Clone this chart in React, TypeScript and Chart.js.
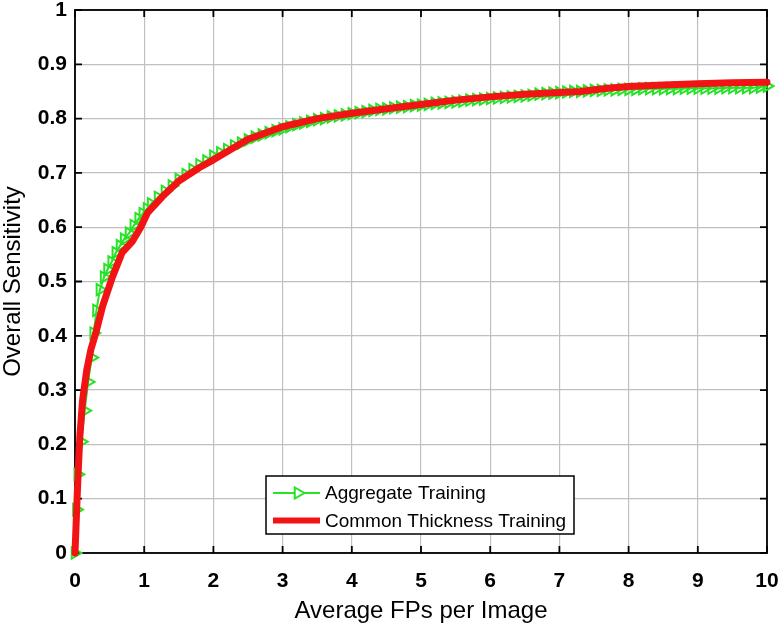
import React, { useEffect, useRef } from "react";
import { Chart, registerables } from "chart.js";

Chart.register(...registerables);

// ---- data ----
const seriesNames = ["Aggregate Training", "Common Thickness Training"];

const xTickValues = [0, 1, 2, 3, 4, 5, 6, 7, 8, 9, 10];
const xTickLabels = ["0", "1", "2", "3", "4", "5", "6", "7", "8", "9", "10"];
const yTickValues = [0, 0.1, 0.2, 0.3, 0.4, 0.5, 0.6, 0.7, 0.8, 0.9, 1];
const yTickLabels = ["0", "0.1", "0.2", "0.3", "0.4", "0.5", "0.6", "0.7", "0.8", "0.9", "1"];

// Aggregate Training (green, triangle markers)
const aggX = [
  0, 0.02, 0.04, 0.09, 0.14, 0.19, 0.24, 0.27, 0.31, 0.36, 0.42, 0.47, 0.53, 0.59, 0.65, 0.71, 0.78, 0.85, 0.92, 0.98,
  1.04, 1.1, 1.2, 1.3, 1.4, 1.5, 1.6, 1.7, 1.8, 1.9, 2.0, 2.1, 2.2, 2.3, 2.4, 2.5, 2.6, 2.7, 2.8, 2.9,
  3.0, 3.1, 3.2, 3.3, 3.4, 3.5, 3.6, 3.7, 3.8, 3.9, 4.0, 4.1, 4.2, 4.3, 4.4, 4.5, 4.6, 4.7, 4.8, 4.9,
  5.0, 5.1, 5.2, 5.3, 5.4, 5.5, 5.6, 5.7, 5.8, 5.9, 6.0, 6.1, 6.2, 6.3, 6.4, 6.5, 6.6, 6.7, 6.8, 6.9,
  7.0, 7.1, 7.2, 7.3, 7.4, 7.5, 7.6, 7.7, 7.8, 7.9, 8.0, 8.1, 8.2, 8.3, 8.4, 8.5, 8.6, 8.7, 8.8, 8.9,
  9.0, 9.1, 9.2, 9.3, 9.4, 9.5, 9.6, 9.7, 9.8, 9.9, 10.0,
];
const aggY = [
  0, 0.08, 0.145, 0.205, 0.262, 0.315, 0.36, 0.405, 0.447, 0.485, 0.508, 0.522, 0.536, 0.553, 0.566, 0.578, 0.589, 0.603, 0.616, 0.625,
  0.634, 0.643, 0.655, 0.666, 0.676, 0.688, 0.697, 0.706, 0.715, 0.722, 0.731, 0.737, 0.743, 0.75, 0.755, 0.761, 0.766, 0.77, 0.774, 0.778,
  0.781, 0.785, 0.789, 0.792, 0.795, 0.798, 0.8, 0.803, 0.805, 0.807, 0.809, 0.811, 0.813, 0.815, 0.817, 0.818, 0.82, 0.821, 0.822, 0.824,
  0.825, 0.826, 0.828, 0.829, 0.83, 0.831, 0.832, 0.834, 0.835, 0.836, 0.837, 0.838, 0.839, 0.84, 0.841, 0.842, 0.843, 0.845, 0.846, 0.847,
  0.848, 0.849, 0.85, 0.85, 0.851, 0.852, 0.852, 0.853, 0.853, 0.854, 0.854, 0.854, 0.855, 0.855, 0.855, 0.855, 0.855, 0.855, 0.856, 0.856,
  0.856, 0.856, 0.856, 0.856, 0.857, 0.857, 0.857, 0.857, 0.857, 0.858, 0.86,
];

// Common Thickness Training (thick red line)
const ctX = [
  0, 0.015, 0.03, 0.05, 0.07, 0.11, 0.17, 0.23, 0.3, 0.4, 0.54, 0.68, 0.83, 0.95, 1.05, 1.26, 1.5, 1.8, 2.0, 2.5,
  3.0, 3.5, 4.0, 4.5, 5.0, 5.5, 6.0, 6.5, 7.0, 7.3, 7.7, 8.0, 8.5, 9.0, 9.5, 10.0,
];
const ctY = [
  0, 0.05, 0.1, 0.16, 0.214, 0.282, 0.337, 0.375, 0.405, 0.455, 0.508, 0.553, 0.574, 0.6, 0.627, 0.656, 0.685, 0.71, 0.724, 0.762,
  0.785, 0.8, 0.81, 0.818, 0.826, 0.834, 0.84, 0.845, 0.848, 0.85, 0.856, 0.859, 0.862, 0.864, 0.866, 0.867,
];

const FONT = "'Liberation Sans', Arial, Helvetica, sans-serif";
const GREEN = "#26e326";
const RED = "#f21414";

const framePlugin = {
  id: "frameAndLegend",
  beforeDatasetsDraw(chart: any) {
    const { ctx, chartArea } = chart;
    const { left, right, top, bottom } = chartArea;
    const xs = chart.scales.x;
    const ys = chart.scales.y;
    ctx.save();
    ctx.strokeStyle = "#000";
    ctx.lineWidth = 1.8;
    ctx.strokeRect(left, top, right - left, bottom - top);
    const tl = 7;
    ctx.beginPath();
    for (const v of xTickValues) {
      const px = xs.getPixelForValue(v);
      ctx.moveTo(px, bottom);
      ctx.lineTo(px, bottom - tl);
      ctx.moveTo(px, top);
      ctx.lineTo(px, top + tl);
    }
    for (const v of yTickValues) {
      const py = ys.getPixelForValue(v);
      ctx.moveTo(left, py);
      ctx.lineTo(left + tl, py);
      ctx.moveTo(right, py);
      ctx.lineTo(right - tl, py);
    }
    ctx.stroke();
    ctx.restore();
  },
  afterDraw(chart: any) {
    const { ctx } = chart;
    ctx.save();
    const bx = 266, by = 476, bw = 308, bh = 58;
    ctx.fillStyle = "#fff";
    ctx.fillRect(bx, by, bw, bh);
    ctx.strokeStyle = "#000";
    ctx.lineWidth = 1.5;
    ctx.strokeRect(bx, by, bw, bh);

    const y1 = 493, y2 = 520.5;
    ctx.strokeStyle = GREEN;
    ctx.lineWidth = 2;
    ctx.beginPath();
    ctx.moveTo(273, y1);
    ctx.lineTo(320, y1);
    ctx.stroke();
    const cx = 298, r = 6.5;
    ctx.beginPath();
    ctx.moveTo(cx + r, y1);
    ctx.lineTo(cx - r / 2, y1 - r * 0.866);
    ctx.lineTo(cx - r / 2, y1 + r * 0.866);
    ctx.closePath();
    ctx.fillStyle = "#fff";
    ctx.fill();
    ctx.stroke();
    ctx.strokeStyle = RED;
    ctx.lineWidth = 6;
    ctx.beginPath();
    ctx.moveTo(273, y2);
    ctx.lineTo(320, y2);
    ctx.stroke();

    ctx.fillStyle = "#000";
    ctx.font = `19px ${FONT}`;
    ctx.textBaseline = "middle";
    ctx.textAlign = "left";
    ctx.fillText(seriesNames[0], 325, y1 + 1);
    ctx.fillText(seriesNames[1], 325, y2 + 1);
    ctx.restore();
  },
};

export default function App() {
  const ref = useRef<HTMLCanvasElement | null>(null);

  useEffect(() => {
    if (!ref.current) return;
    const chart = new Chart(ref.current, {
      type: "line",
      data: {
        datasets: [
          {
            label: seriesNames[0],
            data: aggX.map((x, i) => ({ x, y: aggY[i] })),
            borderColor: GREEN,
            borderWidth: 2,
            pointStyle: "triangle",
            rotation: 90,
            pointRadius: 6.5,
            pointBorderWidth: 2,
            pointBorderColor: GREEN,
            pointBackgroundColor: "rgba(0,0,0,0)",
            tension: 0,
            clip: false,
            order: 1,
          } as any,
          {
            label: seriesNames[1],
            data: ctX.map((x, i) => ({ x, y: ctY[i] })),
            borderColor: RED,
            borderWidth: 7,
            pointRadius: 0,
            borderJoinStyle: "round",
            borderCapStyle: "round",
            tension: 0,
            clip: false,
            order: 0,
          } as any,
        ],
      },
      options: {
        responsive: false,
        maintainAspectRatio: false,
        animation: false,
        events: [],
        layout: { padding: { top: 10, right: 13, left: 0, bottom: 0 }, autoPadding: false } as any,
        plugins: {
          legend: { display: false },
          tooltip: { enabled: false },
        },
        scales: {
          x: {
            type: "linear",
            min: 0,
            max: 10,
            afterBuildTicks: (s: any) => {
              s.ticks = xTickValues.map((v) => ({ value: v }));
            },
            afterFit: (s: any) => {
              s.height = 71;
              s.paddingLeft = 0;
              s.paddingRight = 0;
            },
            ticks: {
              callback: (_v: any, i: number) => xTickLabels[i],
              font: { family: FONT, size: 21, weight: "bold" },
              color: "#000",
              padding: 16,
              maxRotation: 0,
              autoSkip: false,
            },
            grid: { color: "#c0c0c0", lineWidth: 1.2, drawTicks: false },
            border: { display: false },
            title: {
              display: true,
              text: "Average FPs per Image",
              font: { family: FONT, size: 24, lineHeight: 1.05 },
              color: "#000",
              padding: { top: 0, bottom: 0 },
            },
          },
          y: {
            type: "linear",
            min: 0,
            max: 1,
            afterBuildTicks: (s: any) => {
              s.ticks = yTickValues.map((v) => ({ value: v }));
            },
            afterFit: (s: any) => {
              s.width = 75;
              s.paddingTop = 0;
              s.paddingBottom = 0;
            },
            ticks: {
              callback: (_v: any, i: number) => yTickLabels[i],
              font: { family: FONT, size: 21, weight: "bold", lineHeight: 1 },
              color: "#000",
              padding: 8,
              autoSkip: false,
            },
            grid: { color: "#c0c0c0", lineWidth: 1.2, drawTicks: false },
            border: { display: false },
            title: {
              display: true,
              text: "Overall Sensitivity",
              font: { family: FONT, size: 24, lineHeight: 1.1 },
              color: "#000",
              padding: { top: 0, bottom: 0 },
            },
          },
        },
      },
      plugins: [framePlugin],
    });
    return () => chart.destroy();
  }, []);

  return (
    <div style={{ position: "absolute", left: 0, top: 0, width: 780, height: 624, background: "#fff" }}>
      <canvas ref={ref} width={780} height={624} style={{ display: "block" }} />
    </div>
  );
}
